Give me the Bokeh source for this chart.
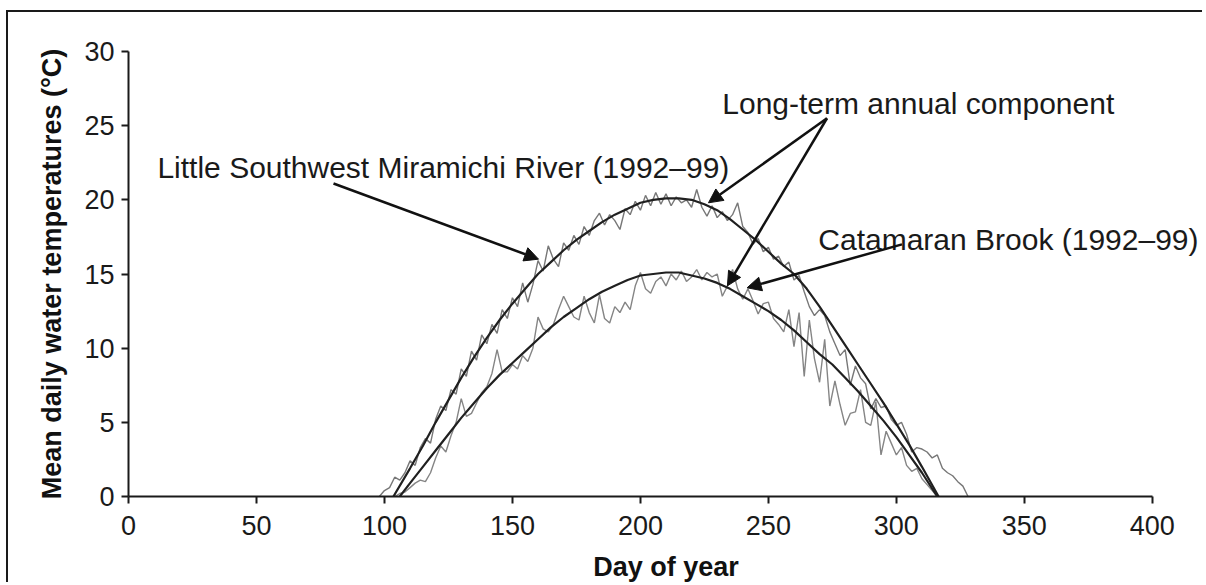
from bokeh.plotting import figure
from bokeh.models import FixedTicker, Arrow, NormalHead, Label, Range1d
from bokeh.embed import file_html
from bokeh.resources import INLINE

# ---------------- data ----------------
x_ticks = [0, 50, 100, 150, 200, 250, 300, 350, 400]
y_ticks = [0, 5, 10, 15, 20, 25, 30]

# Little Southwest Miramichi River, mean daily temperature (1992-99)
lsw_obs_day = [98, 100, 102, 104, 106, 108, 110, 112, 114, 116, 118, 120, 122, 124, 126, 128,
               130, 132, 134, 136, 138, 140, 142, 144, 146, 148, 150, 152, 154, 156, 158, 160,
               162, 164, 166, 168, 170, 172, 174, 176, 178, 180, 182, 184, 186, 188, 190, 192,
               194, 196, 198, 200, 202, 204, 206, 208, 210, 212, 214, 216, 218, 220, 222, 224,
               226, 228, 230, 232, 234, 236, 238, 240, 242, 244, 246, 248, 250, 252, 254, 256,
               258, 260, 262, 264, 266, 268, 270, 272, 274, 276, 278, 280, 282, 284, 286, 288,
               290, 292, 294, 296, 298, 300, 302, 304, 306, 308, 310, 312, 314, 316, 318, 320,
               322, 324, 326, 328]
lsw_obs_temp = [0.0, 0.4, 0.6, 1.3, 1.1, 1.6, 2.4, 2.1, 3.3, 3.9, 3.6, 5.2, 6.1, 5.8, 7.2, 6.9,
                8.6, 8.1, 9.8, 9.2, 10.9, 10.3, 11.6, 11.0, 12.6, 12.0, 13.4, 12.8, 14.4, 13.1, 14.3, 15.9,
                15.2, 16.9, 16.0, 15.5, 17.1, 16.6, 17.6, 17.0, 18.2, 17.6, 18.6, 19.1, 18.3, 19.0, 18.6, 18.0,
                19.4, 19.0, 19.9, 19.3, 20.3, 19.6, 20.5, 19.7, 20.4, 19.6, 20.2, 19.8, 20.0, 19.5, 20.7, 19.5,
                18.9, 19.6, 18.8, 19.2, 18.6, 19.0, 19.8, 18.2, 17.8, 17.0, 17.4, 16.5, 16.8, 16.0, 16.2, 15.5,
                15.8, 14.6, 14.9, 13.8, 12.8, 12.2, 12.6, 12.2, 11.1, 10.3, 9.5, 9.9, 7.5, 8.8, 8.0, 7.6,
                5.9, 6.6, 6.0, 6.1, 5.2, 4.8, 5.0, 4.2, 3.0, 3.3, 3.2, 3.0, 2.6, 2.8, 1.9, 1.6,
                1.4, 1.0, 0.7, 0.0]

# Catamaran Brook, mean daily temperature (1992-99)
cat_obs_day = [104, 106, 108, 110, 112, 114, 116, 118, 120, 122, 124, 126, 128, 130, 132, 134,
               136, 138, 140, 142, 144, 146, 148, 150, 152, 154, 156, 158, 160, 162, 164, 166,
               168, 170, 172, 174, 176, 178, 180, 182, 184, 186, 188, 190, 192, 194, 196, 198,
               200, 202, 204, 206, 208, 210, 212, 214, 216, 218, 220, 222, 224, 226, 228, 230,
               232, 234, 236, 238, 240, 242, 244, 246, 248, 250, 252, 254, 256, 258, 260, 262,
               264, 266, 268, 270, 272, 274, 276, 278, 280, 282, 284, 286, 288, 290, 292, 294,
               296, 298, 300, 302, 304, 306, 308, 310, 312, 314, 316]
cat_obs_temp = [0.0, 0.2, 0.3, 0.6, 0.9, 1.1, 1.0, 1.6, 2.6, 3.4, 3.0, 4.1, 5.0, 6.6, 5.4, 5.6,
                6.3, 7.0, 7.4, 8.3, 9.9, 8.4, 8.4, 8.9, 8.6, 9.5, 9.1, 10.0, 12.1, 11.3, 11.1, 11.6,
                12.6, 13.5, 12.8, 12.1, 11.9, 13.5, 12.4, 11.7, 13.6, 12.0, 11.7, 12.8, 12.4, 13.1, 12.6, 14.2,
                15.1, 14.0, 13.7, 14.5, 14.8, 14.2, 15.0, 14.6, 15.2, 14.5, 14.8, 15.3, 14.6, 15.1, 14.8, 15.0,
                13.5, 14.2, 15.3, 14.0, 13.3, 14.0, 13.2, 12.3, 13.0, 13.1, 12.0, 11.6, 11.1, 12.6, 10.1, 12.4,
                8.1, 11.9, 9.3, 7.7, 10.6, 6.1, 7.8, 6.2, 4.8, 5.6, 5.7, 7.2, 5.0, 4.8, 6.4, 2.8,
                4.4, 3.6, 2.8, 3.3, 2.1, 1.7, 1.9, 1.2, 0.8, 0.4, 0.0]

# Long-term annual components
lsw_fit_day = [103.5, 110, 115, 120, 125, 130, 135, 140, 145, 150, 155, 160, 165, 170, 175, 180,
               185, 190, 195, 200, 205, 210, 215, 220, 225, 230, 235, 240, 245, 250, 255, 260,
               265, 270, 275, 280, 285, 290, 295, 300, 305, 310, 316.5]
lsw_fit_temp = [0.0, 1.9, 3.4, 5.0, 6.5, 8.0, 9.4, 10.7, 11.9, 13.0, 14.0, 15.0, 15.8, 16.6, 17.3, 17.9,
                18.5, 19.0, 19.4, 19.8, 20.0, 20.1, 20.1, 20.0, 19.7, 19.3, 18.7, 18.0, 17.3, 16.5, 15.7, 15.0,
                14.0, 12.8, 11.5, 10.2, 8.9, 7.6, 6.3, 4.9, 3.5, 2.0, 0.0]
cat_fit_day = [106, 110, 115, 120, 125, 130, 135, 140, 145, 150, 155, 160, 165, 170, 175, 180,
               185, 190, 195, 200, 205, 210, 215, 220, 225, 230, 235, 240, 245, 250, 255, 260,
               265, 270, 275, 280, 285, 290, 295, 300, 305, 310, 316]
cat_fit_temp = [0.0, 0.9, 2.0, 3.1, 4.2, 5.3, 6.3, 7.3, 8.2, 9.0, 9.8, 10.6, 11.4, 12.1, 12.7, 13.3,
                13.8, 14.2, 14.6, 14.9, 15.0, 15.1, 15.1, 14.9, 14.7, 14.4, 14.0, 13.5, 13.0, 12.5, 11.9, 11.2,
                10.4, 9.6, 8.9, 8.0, 7.1, 6.1, 5.1, 4.0, 2.8, 1.6, 0.0]

# ---------------- figure ----------------
FONT = "Liberation Sans"
INK = "#1a1a1a"

p = figure(width=1196, height=572,
           x_range=Range1d(0, 420), y_range=Range1d(0, 30),
           output_backend="svg", toolbar_location=None,
           min_border_left=120, min_border_right=1,
           min_border_top=39, min_border_bottom=86)
p.styles = {"border-top": "2px solid #1a1a1a", "border-left": "2px solid #1a1a1a",
            "margin-top": "10px", "margin-left": "6px"}
p.outline_line_color = None
p.grid.visible = False
p.background_fill_color = "white"
p.border_fill_color = "white"

for ax, ticks in ((p.xaxis, x_ticks), (p.yaxis, y_ticks)):
    ax.ticker = FixedTicker(ticks=ticks)
    ax.bounds = (ticks[0], ticks[-1])
    ax.minor_tick_line_color = None
    ax.major_tick_in = 0
    ax.major_tick_out = 7
    ax.axis_line_width = 2
    ax.axis_line_color = INK
    ax.major_tick_line_width = 2
    ax.major_tick_line_color = INK
    ax.major_label_text_font = FONT
    ax.major_label_text_font_size = "27px"
    ax.major_label_text_color = INK
    ax.axis_label_text_font = FONT
    ax.axis_label_text_font_size = "27px"
    ax.axis_label_text_font_style = "bold"
    ax.axis_label_text_color = "#111111"

p.xaxis.axis_label = "Day of year"
p.xaxis.major_label_standoff = 12
p.xaxis.axis_label_standoff = 14
p.yaxis.axis_label = "Mean daily water temperatures (°C)"
p.yaxis.major_label_standoff = 7
p.yaxis.axis_label_standoff = 14

# observed (noisy) series
p.line(lsw_obs_day, lsw_obs_temp, line_color="#777777", line_width=1.4)
p.line(cat_obs_day, cat_obs_temp, line_color="#858585", line_width=1.4)
# long-term annual components
p.line(lsw_fit_day, lsw_fit_temp, line_color="#202020", line_width=2.2)
p.line(cat_fit_day, cat_fit_temp, line_color="#202020", line_width=2.2)

# annotations
def add_label(x, y, text):
    p.add_layout(Label(x=x, y=y, text=text, text_font=FONT, text_font_size="30px",
                       text_color="#1a1a1a", text_baseline="alphabetic", text_align="left"))

add_label(11.3, 22.15, "Little Southwest Miramichi River (1992–99)")
add_label(232, 26.5, "Long-term annual component")
add_label(269.5, 17.3, "Catamaran Brook (1992–99)")

def add_arrow(xs, ys, xe, ye):
    p.add_layout(Arrow(end=NormalHead(size=14, fill_color="#111111", line_color="#111111", line_width=1),
                       x_start=xs, y_start=ys, x_end=xe, y_end=ye,
                       line_width=2.5, line_color="#111111"))

add_arrow(80.1, 21.1, 160.2, 16.0)
add_arrow(272.9, 25.5, 226.6, 19.8)
add_arrow(272.9, 25.5, 234.0, 14.2)
add_arrow(302.2, 17.0, 241.7, 14.07)

open("out.html", "w").write(file_html(p, INLINE))
